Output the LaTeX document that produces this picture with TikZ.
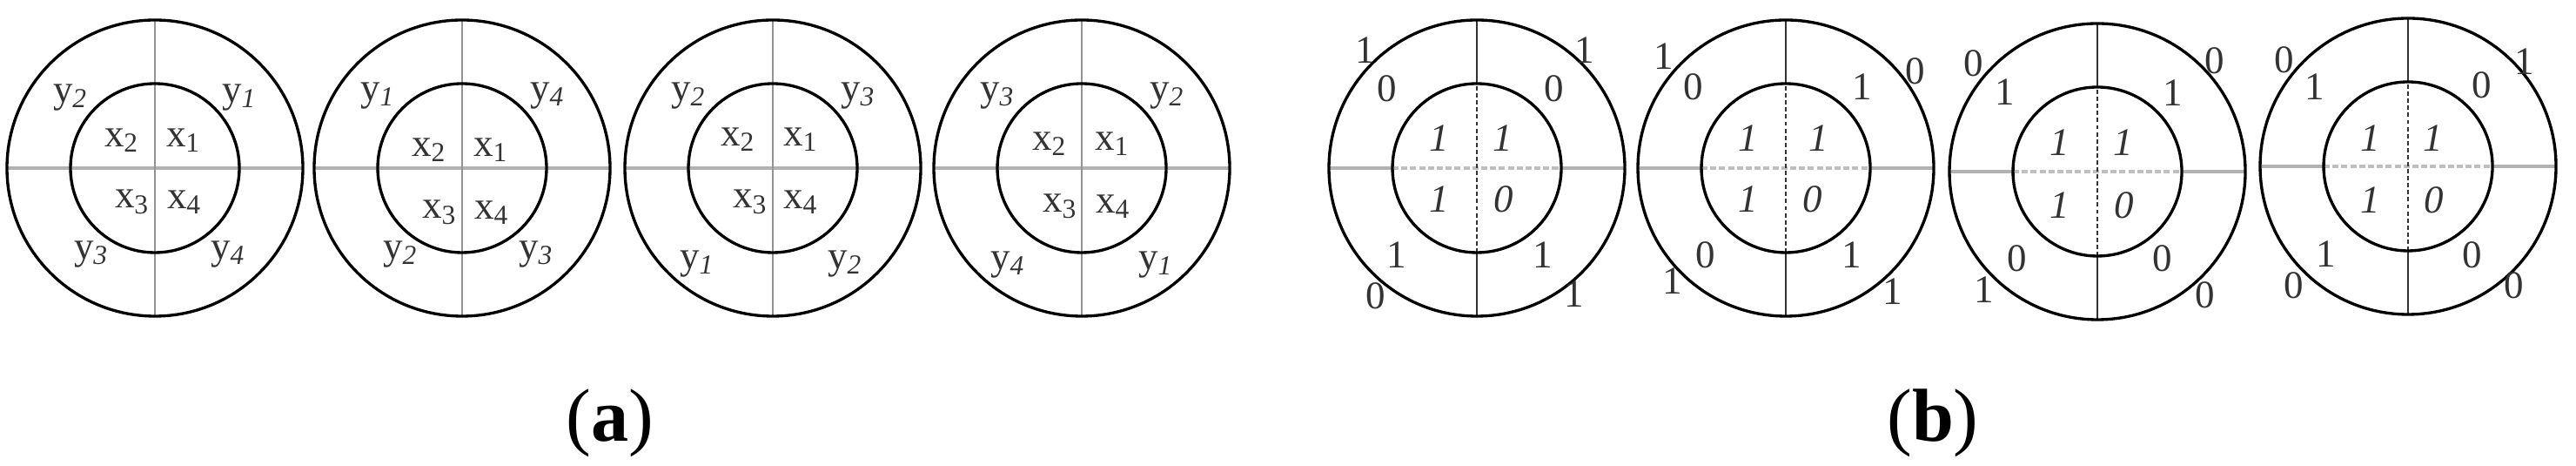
\documentclass[tikz,border=0pt]{standalone}
\usepackage{fontspec}
\setmainfont{Liberation Serif}
\usepackage{tikz}

\begin{document}
\begin{tikzpicture}[
    ring/.style={line width=0.95pt},
    hline/.style={gray!60, line width=0.9pt},
    vline/.style={gray!85, line width=0.5pt},
    vsolid/.style={black!80, line width=0.45pt},
    hdash/.style={gray!50, line width=0.9pt, dash pattern=on 2pt off 0.9pt},
    vdash/.style={black!80, line width=0.4pt, dash pattern=on 1.4pt off 0.9pt},
    lab/.style={inner sep=0pt, text=black!80, font=\fontsize{12.8}{14}\selectfont},
    captxt/.style={inner sep=0pt, anchor=base, font=\fontsize{24.5}{28}\selectfont}]
  \useasboundingbox (0,0) rectangle (29.60,5.35);

  % (a) Disc 1
  \begin{scope}[shift={(1.78,3.42)}]
    \draw[hline] (-1.70,0) -- (1.70,0);
    \draw[vline] (0,-1.70) -- (0,1.70);
    \draw[ring] (0,0) circle (1.70);
    \draw[ring] (0,0) circle (0.97);
    \node[lab] (a1y2) at (-0.97,0.81) {y\textsubscript{\itshape 2}};
    \node[lab] (a1y1) at (0.97,0.81) {y\textsubscript{\itshape 1}};
    \node[lab] (a1x2) at (-0.38,0.32) {x\textsubscript{2}};
    \node[lab] (a1x1) at (0.33,0.32) {x\textsubscript{1}};
    \node[lab] (a1x3) at (-0.26,-0.39) {x\textsubscript{3}};
    \node[lab] (a1x4) at (0.34,-0.39) {x\textsubscript{4}};
    \node[lab] (a1y3) at (-0.73,-0.99) {y\textsubscript{\itshape 3}};
    \node[lab] (a1y4) at (0.84,-0.99) {y\textsubscript{\itshape 4}};
  \end{scope}

  % (a) Disc 2
  \begin{scope}[shift={(5.31,3.42)}]
    \draw[hline] (-1.70,0) -- (1.70,0);
    \draw[vline] (0,-1.70) -- (0,1.70);
    \draw[ring] (0,0) circle (1.70);
    \draw[ring] (0,0) circle (0.97);
    \node[lab] (a2y1) at (-0.97,0.83) {y\textsubscript{\itshape 1}};
    \node[lab] (a2y4) at (0.98,0.83) {y\textsubscript{\itshape 4}};
    \node[lab] (a2x2) at (-0.38,0.21) {x\textsubscript{2}};
    \node[lab] (a2x1) at (0.33,0.21) {x\textsubscript{1}};
    \node[lab] (a2x3) at (-0.26,-0.51) {x\textsubscript{3}};
    \node[lab] (a2x4) at (0.34,-0.51) {x\textsubscript{4}};
    \node[lab] (a2y2) at (-0.71,-0.99) {y\textsubscript{\itshape 2}};
    \node[lab] (a2y3) at (0.85,-0.99) {y\textsubscript{\itshape 3}};
  \end{scope}

  % (a) Disc 3
  \begin{scope}[shift={(8.88,3.42)}]
    \draw[hline] (-1.70,0) -- (1.70,0);
    \draw[vline] (0,-1.70) -- (0,1.70);
    \draw[ring] (0,0) circle (1.70);
    \draw[ring] (0,0) circle (0.97);
    \node[lab] (a3y2) at (-0.97,0.83) {y\textsubscript{\itshape 2}};
    \node[lab] (a3y3) at (0.98,0.83) {y\textsubscript{\itshape 3}};
    \node[lab] (a3x2) at (-0.40,0.33) {x\textsubscript{2}};
    \node[lab] (a3x1) at (0.32,0.33) {x\textsubscript{1}};
    \node[lab] (a3x3) at (-0.26,-0.39) {x\textsubscript{3}};
    \node[lab] (a3x4) at (0.32,-0.39) {x\textsubscript{4}};
    \node[lab] (a3y1) at (-0.87,-1.10) {y\textsubscript{\itshape 1}};
    \node[lab] (a3y2b) at (0.83,-1.10) {y\textsubscript{\itshape 2}};
  \end{scope}

  % (a) Disc 4
  \begin{scope}[shift={(12.43,3.42)}]
    \draw[hline] (-1.70,0) -- (1.70,0);
    \draw[vline] (0,-1.70) -- (0,1.70);
    \draw[ring] (0,0) circle (1.70);
    \draw[ring] (0,0) circle (0.97);
    \node[lab] (a4y3) at (-0.97,0.83) {y\textsubscript{\itshape 3}};
    \node[lab] (a4y2) at (0.98,0.83) {y\textsubscript{\itshape 2}};
    \node[lab] (a4x2) at (-0.37,0.28) {x\textsubscript{2}};
    \node[lab] (a4x1) at (0.35,0.28) {x\textsubscript{1}};
    \node[lab] (a4x3) at (-0.25,-0.44) {x\textsubscript{3}};
    \node[lab] (a4x4) at (0.36,-0.44) {x\textsubscript{4}};
    \node[lab] (a4y4) at (-0.85,-1.11) {y\textsubscript{\itshape 4}};
    \node[lab] (a4y1) at (0.85,-1.11) {y\textsubscript{\itshape 1}};
  \end{scope}

  % (b) Disc 1
  \begin{scope}[shift={(16.97,3.42)}]
    \draw[hline] (-1.70,0) -- (-0.97,0);
    \draw[hline] (0.97,0) -- (1.70,0);
    \draw[hdash] (-0.97,0) -- (0.97,0);
    \draw[vsolid] (0,0.97) -- (0,1.70);
    \draw[vsolid] (0,-1.70) -- (0,-0.97);
    \draw[vdash] (0,-0.97) -- (0,0.97);
    \draw[ring] (0,0) circle (1.70);
    \draw[ring] (0,0) circle (0.97);
    \node[lab] (b1otl) at (-1.28,1.35) {1};
    \node[lab] (b1otr) at (1.24,1.35) {1};
    \node[lab] (b1obl) at (-1.16,-1.47) {0};
    \node[lab] (b1obr) at (1.12,-1.45) {1};
    \node[lab] (b1rtl) at (-1.03,0.91) {0};
    \node[lab] (b1rtr) at (0.89,0.91) {0};
    \node[lab] (b1rbl) at (-0.92,-1.00) {1};
    \node[lab] (b1rbr) at (0.76,-1.00) {1};
    \node[lab] (b1itl) at (-0.43,0.34) {\itshape 1};
    \node[lab] (b1itr) at (0.30,0.34) {\itshape 1};
    \node[lab] (b1ibl) at (-0.43,-0.36) {\itshape 1};
    \node[lab] (b1ibr) at (0.31,-0.36) {\itshape 0};
  \end{scope}

  % (b) Disc 2
  \begin{scope}[shift={(20.52,3.42)}]
    \draw[hline] (-1.70,0) -- (-0.97,0);
    \draw[hline] (0.97,0) -- (1.70,0);
    \draw[hdash] (-0.97,0) -- (0.97,0);
    \draw[vsolid] (0,0.97) -- (0,1.70);
    \draw[vsolid] (0,-1.70) -- (0,-0.97);
    \draw[vdash] (0,-0.97) -- (0,0.97);
    \draw[ring] (0,0) circle (1.70);
    \draw[ring] (0,0) circle (0.97);
    \node[lab] (b2otl) at (-1.40,1.28) {1};
    \node[lab] (b2otr) at (1.49,1.11) {0};
    \node[lab] (b2obl) at (-1.30,-1.30) {1};
    \node[lab] (b2obr) at (1.23,-1.42) {1};
    \node[lab] (b2rtl) at (-1.06,0.93) {0};
    \node[lab] (b2rtr) at (0.88,0.93) {1};
    \node[lab] (b2rbl) at (-0.92,-1.00) {0};
    \node[lab] (b2rbr) at (0.76,-1.00) {1};
    \node[lab] (b2itl) at (-0.43,0.34) {\itshape 1};
    \node[lab] (b2itr) at (0.38,0.34) {\itshape 1};
    \node[lab] (b2ibl) at (-0.43,-0.36) {\itshape 1};
    \node[lab] (b2ibr) at (0.31,-0.36) {\itshape 0};
  \end{scope}

  % (b) Disc 3
  \begin{scope}[shift={(24.10,3.38)}]
    \draw[hline] (-1.70,0) -- (-0.97,0);
    \draw[hline] (0.97,0) -- (1.70,0);
    \draw[hdash] (-0.97,0) -- (0.97,0);
    \draw[vsolid] (0,0.97) -- (0,1.70);
    \draw[vsolid] (0,-1.70) -- (0,-0.97);
    \draw[vdash] (0,-0.97) -- (0,0.97);
    \draw[ring] (0,0) circle (1.70);
    \draw[ring] (0,0) circle (0.97);
    \node[lab] (b3otl) at (-1.42,1.24) {0};
    \node[lab] (b3otr) at (1.35,1.27) {0};
    \node[lab] (b3obl) at (-1.30,-1.36) {1};
    \node[lab] (b3obr) at (1.24,-1.42) {0};
    \node[lab] (b3rtl) at (-1.06,0.91) {1};
    \node[lab] (b3rtr) at (0.87,0.90) {1};
    \node[lab] (b3rbl) at (-0.92,-1.00) {0};
    \node[lab] (b3rbr) at (0.75,-1.00) {0};
    \node[lab] (b3itl) at (-0.43,0.33) {\itshape 1};
    \node[lab] (b3itr) at (0.30,0.33) {\itshape 1};
    \node[lab] (b3ibl) at (-0.43,-0.39) {\itshape 1};
    \node[lab] (b3ibr) at (0.31,-0.39) {\itshape 0};
  \end{scope}

  % (b) Disc 4
  \begin{scope}[shift={(27.67,3.44)}]
    \draw[hline] (-1.70,0) -- (-0.97,0);
    \draw[hline] (0.97,0) -- (1.70,0);
    \draw[hdash] (-0.97,0) -- (0.97,0);
    \draw[vsolid] (0,0.97) -- (0,1.70);
    \draw[vsolid] (0,-1.70) -- (0,-0.97);
    \draw[vdash] (0,-0.97) -- (0,0.97);
    \draw[ring] (0,0) circle (1.70);
    \draw[ring] (0,0) circle (0.97);
    \node[lab] (b4otl) at (-1.42,1.22) {0};
    \node[lab] (b4otr) at (1.34,1.20) {1};
    \node[lab] (b4obl) at (-1.31,-1.37) {0};
    \node[lab] (b4obr) at (1.22,-1.37) {0};
    \node[lab] (b4rtl) at (-1.07,0.91) {1};
    \node[lab] (b4rtr) at (0.85,0.93) {0};
    \node[lab] (b4rbl) at (-0.94,-1.01) {1};
    \node[lab] (b4rbr) at (0.74,-1.02) {0};
    \node[lab] (b4itl) at (-0.43,0.32) {\itshape 1};
    \node[lab] (b4itr) at (0.29,0.32) {\itshape 1};
    \node[lab] (b4ibl) at (-0.43,-0.39) {\itshape 1};
    \node[lab] (b4ibr) at (0.30,-0.39) {\itshape 0};
  \end{scope}

  % Captions
  \node[captxt] (capa) at (7.01,0.28) {(\textbf{a})};
  \node[captxt] (capb) at (22.21,0.28) {(\textbf{b})};
\end{tikzpicture}
\end{document}
